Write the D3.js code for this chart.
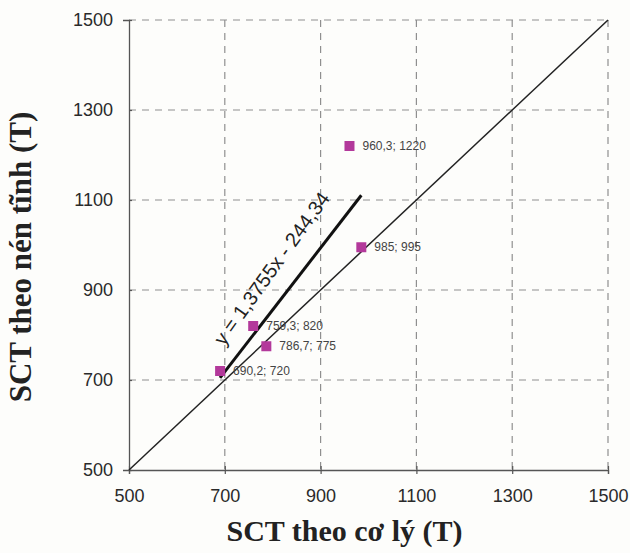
<!DOCTYPE html>
<html>
<head>
<meta charset="utf-8">
<script src="https://cdn.jsdelivr.net/npm/d3@7"></script>
<style>
  body { margin: 0; background: #fdfdfb; }
  svg { display: block; }
</style>
</head>
<body>
<svg class="chart"></svg>
<script>
// data
var xValues = [690.2, 759.3, 786.7, 960.3, 985];
var yValues = [720, 820, 775, 1220, 995];
var pointLabels = ["690,2; 720", "759,3; 820", "786,7; 775", "960,3; 1220", "985; 995"];
var tickValues = [500, 700, 900, 1100, 1300, 1500];
var fitSlope = 1.3755, fitIntercept = -244.34;
var fitRange = [690, 985];
var fitLabel = "y = 1,3755x - 244,34";

var margin = {top: 20, right: 22, bottom: 83, left: 129},
    width = 630 - margin.left - margin.right,
    height = 553 - margin.top - margin.bottom;

var svg = d3.select(".chart")
    .attr("width", 630)
    .attr("height", 553);

var g = svg.append("g")
    .attr("transform", "translate(" + margin.left + "," + margin.top + ")");

var x = d3.scaleLinear().domain([500, 1500]).range([0, width]);
var y = d3.scaleLinear().domain([500, 1500]).range([height, 0]);

// GRID
g.selectAll(".vgrid").data(tickValues.slice(1)).enter().append("line")
    .attr("x1", function(d) { return x(d); })
    .attr("x2", function(d) { return x(d); })
    .attr("y1", 0).attr("y2", height)
    .attr("stroke", "#8f8f8f").attr("stroke-width", 1.2)
    .attr("stroke-dasharray", "7,6");
g.selectAll(".hgrid").data(tickValues.slice(1)).enter().append("line")
    .attr("y1", function(d) { return y(d); })
    .attr("y2", function(d) { return y(d); })
    .attr("x1", 0).attr("x2", width)
    .attr("stroke", "#8f8f8f").attr("stroke-width", 1.2)
    .attr("stroke-dasharray", "7,6");

// AXES
var xAxis = d3.axisBottom(x).tickValues(tickValues).tickFormat(d3.format("d")).tickSize(4).tickPadding(15);
var yAxis = d3.axisLeft(y).tickValues(tickValues).tickFormat(d3.format("d")).tickSize(6).tickPadding(10);

var gx = g.append("g")
    .attr("transform", "translate(0," + height + ")")
    .call(xAxis);
var gy = g.append("g").call(yAxis);

[gx, gy].forEach(function(a) {
  a.select(".domain").attr("stroke", "#555").attr("stroke-width", 1.3);
  a.selectAll(".tick line").attr("stroke", "#555").attr("stroke-width", 1.2);
  a.selectAll(".tick text")
    .attr("font-family", "Arial, 'Liberation Sans', sans-serif")
    .attr("font-size", 18)
    .attr("fill", "#2a2a2a");
});
gx.selectAll(".tick line").attr("y1", -4);
gy.selectAll(".tick line").attr("x2", 3);

// DIAGONAL y = x
g.append("line")
    .attr("x1", x(500)).attr("y1", y(500))
    .attr("x2", x(1500)).attr("y2", y(1500))
    .attr("stroke", "#222").attr("stroke-width", 1.5);

// FIT LINE
g.append("line")
    .attr("x1", x(fitRange[0])).attr("y1", y(fitSlope * fitRange[0] + fitIntercept))
    .attr("x2", x(fitRange[1])).attr("y2", y(fitSlope * fitRange[1] + fitIntercept))
    .attr("stroke", "#111").attr("stroke-width", 3);

// fit label, rotated along the line
var angle = Math.atan2(y(fitSlope * fitRange[1] + fitIntercept) - y(fitSlope * fitRange[0] + fitIntercept),
                       x(fitRange[1]) - x(fitRange[0])) * 180 / Math.PI - 2;
var lx = x(818), ly = y(fitSlope * 818 + fitIntercept);
g.append("text")
    .attr("transform", "translate(" + (lx - 4) + "," + (ly - 26) + ") rotate(" + angle + ")")
    .attr("text-anchor", "middle")
    .attr("font-family", "Arial, 'Liberation Sans', sans-serif")
    .attr("font-size", 20)
    .attr("fill", "#222")
    .text(fitLabel);

// POINTS
var pts = xValues.map(function(d, i) { return {x: d, y: yValues[i], label: pointLabels[i]}; });

g.selectAll(".pt").data(pts).enter().append("rect")
    .attr("x", function(d) { return x(d.x) - 5; })
    .attr("y", function(d) { return y(d.y) - 5; })
    .attr("width", 10).attr("height", 10)
    .attr("fill", "#b3399b");

g.selectAll(".plabel").data(pts).enter().append("text")
    .attr("x", function(d) { return x(d.x) + 13; })
    .attr("y", function(d) { return y(d.y) + 4; })
    .attr("font-family", "Arial, 'Liberation Sans', sans-serif")
    .attr("font-size", 12)
    .attr("fill", "#444")
    .text(function(d) { return d.label; });

// AXIS TITLES
svg.append("text")
    .attr("x", margin.left + width / 2 - 24)
    .attr("y", 541)
    .attr("text-anchor", "middle")
    .attr("font-family", "'Liberation Serif', 'Times New Roman', serif")
    .attr("font-weight", "bold")
    .attr("font-size", 30)
    .attr("fill", "#222")
    .text("SCT theo cơ lý (T)");

svg.append("text")
    .attr("transform", "translate(31,257) rotate(-90)")
    .attr("text-anchor", "middle")
    .attr("font-family", "'Liberation Serif', 'Times New Roman', serif")
    .attr("font-weight", "bold")
    .attr("font-size", 31)
    .attr("fill", "#222")
    .text("SCT theo nén tĩnh (T)");
</script>
</body>
</html>
